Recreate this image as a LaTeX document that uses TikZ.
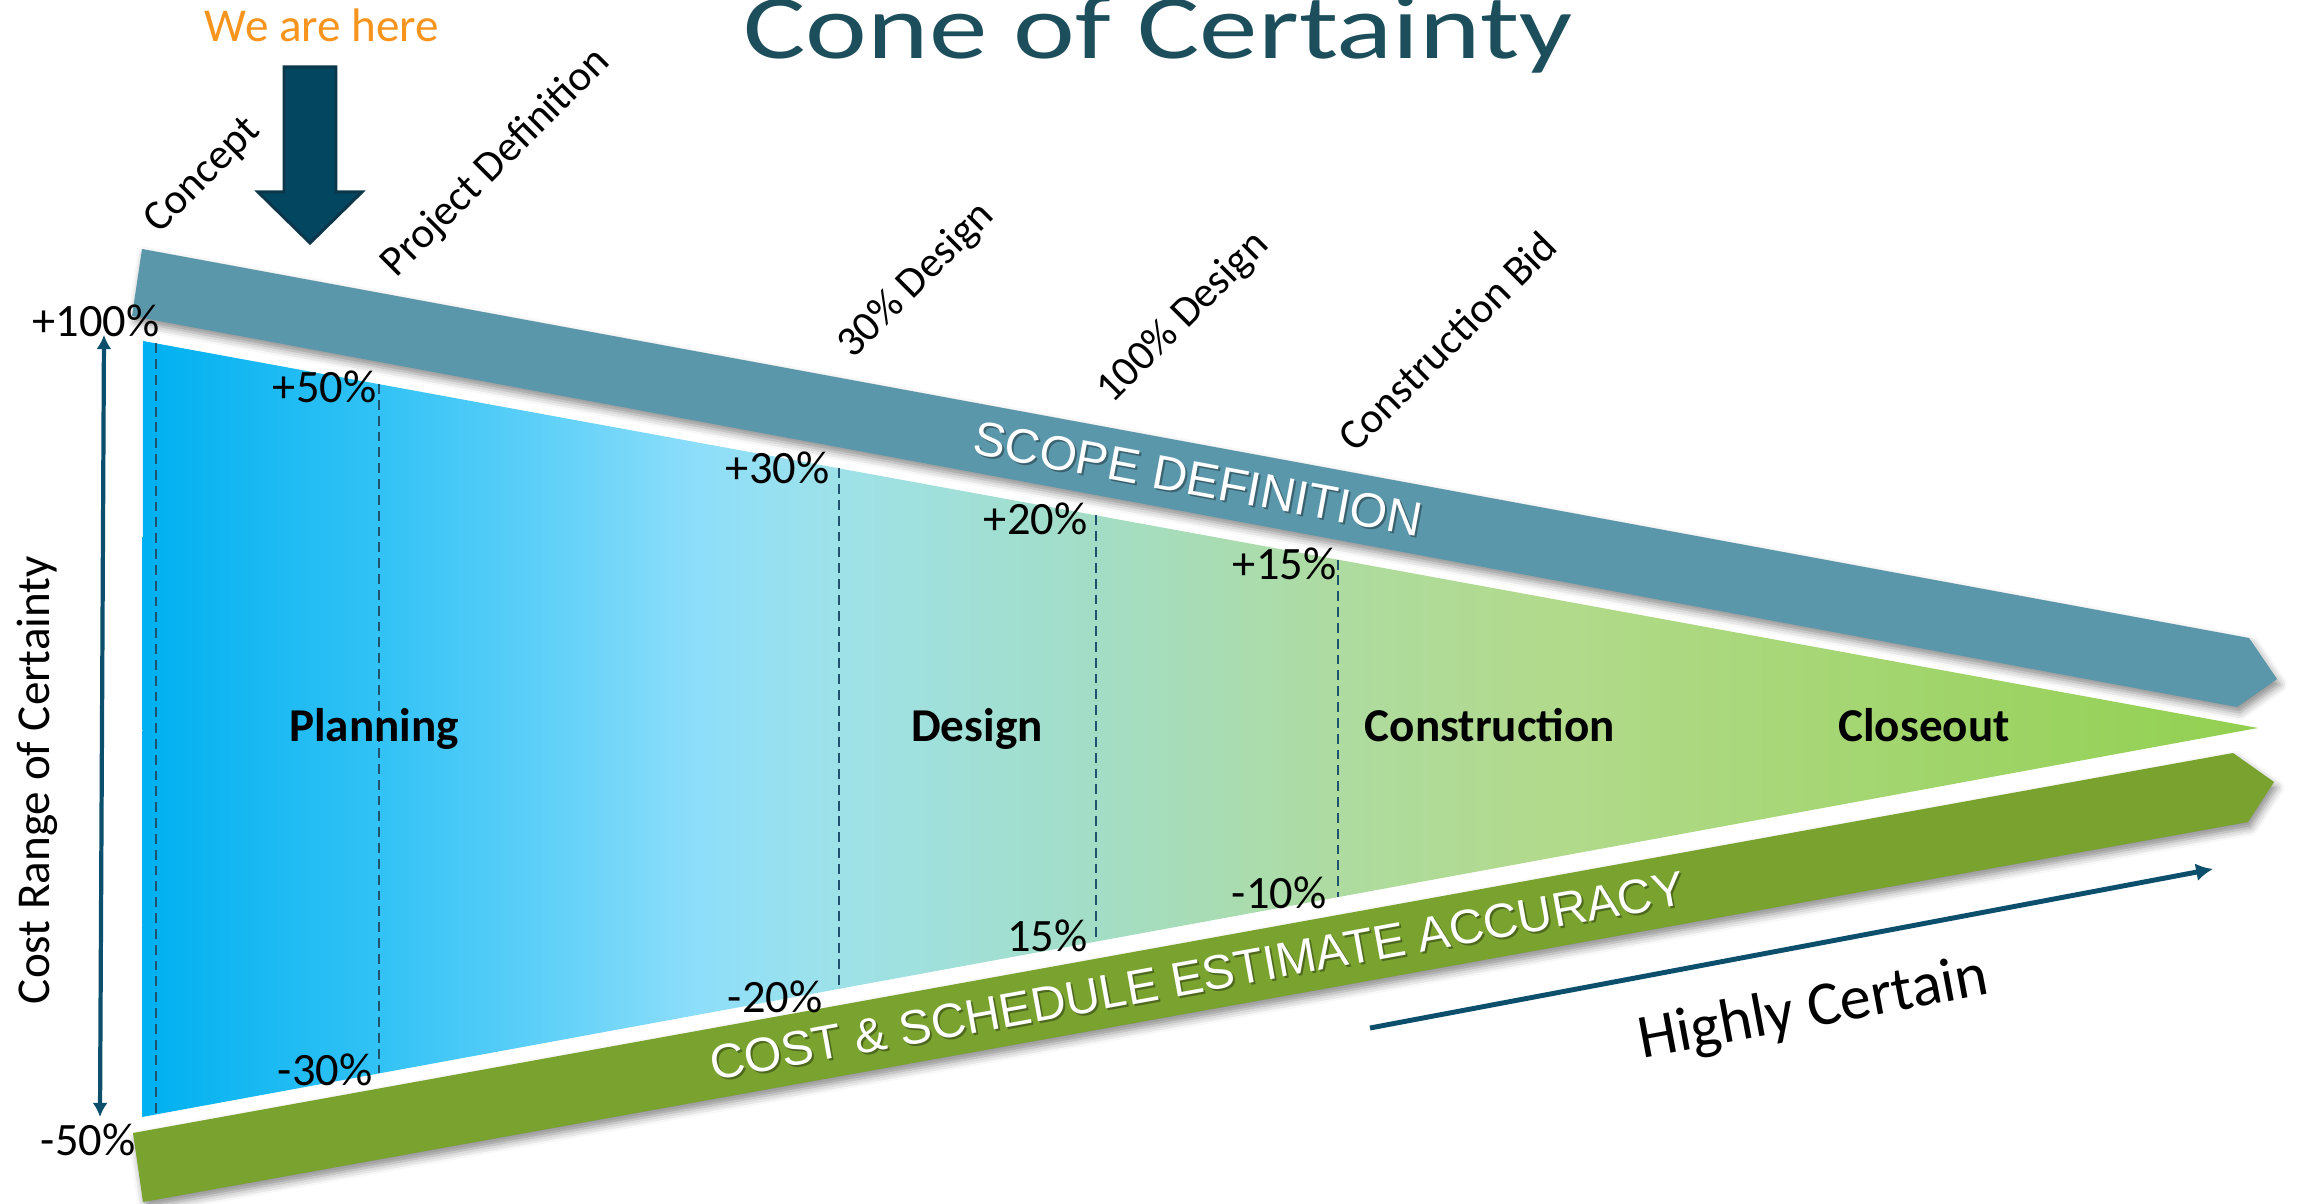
\documentclass[tikz,border=0pt]{standalone}
\usepackage{fontspec}
\setmainfont{Carlito}
\newfontfamily\bandfont{Liberation Sans}
\usetikzlibrary{arrows.meta,shadows.blur}
\definecolor{titleteal}{RGB}{29,78,91}
\definecolor{scopeblue}{RGB}{91,151,171}
\definecolor{costgreen}{RGB}{121,162,47}
\definecolor{hereorange}{RGB}{247,148,30}
\definecolor{herefill}{RGB}{3,70,95}
\definecolor{hereline}{RGB}{12,55,75}
\definecolor{axisblue}{RGB}{11,79,108}
\definecolor{dashblue}{RGB}{31,82,110}
\pgfdeclarehorizontalshading{coneshade}{100bp}{rgb(0bp)=(0,.690,.941); rgb(25bp)=(0,.690,.941);
  rgb(30.6bp)=(.196,.761,.961); rgb(34.5bp)=(.373,.816,.973); rgb(38.2bp)=(.557,.871,.980);
  rgb(41.5bp)=(.620,.886,.910); rgb(47.6bp)=(.639,.867,.773); rgb(53.3bp)=(.682,.859,.627);
  rgb(58.3bp)=(.698,.855,.549); rgb(75bp)=(.573,.816,.314); rgb(100bp)=(.573,.816,.314)}
\begin{document}
\begin{tikzpicture}[x=0.01cm,y=-0.01cm,
    band/.style={blur shadow={shadow xshift=0.8pt,shadow yshift=-1.6pt,shadow blur radius=2.2pt,shadow opacity=45}},
    bandtext/.style={font=\bandfont\fontsize{13.7}{16}\selectfont,inner sep=0pt},
    milestone/.style={font=\fontsize{12.2}{14}\selectfont,rotate=45,anchor=base west,inner sep=0pt},
    pct/.style={font=\fontsize{13.2}{15}\selectfont,anchor=base east,inner sep=0pt},
    phase/.style={font=\bfseries\fontsize{13.4}{15}\selectfont,anchor=base,inner sep=0pt},
    stagedash/.style={dashblue,line width=0.6pt,dash pattern=on 2.8pt off 1.7pt}]
    \useasboundingbox (0,0) rectangle (2297,1204);
    %% title
    \node[font=\fontsize{26}{29}\selectfont,text=titleteal,anchor=base,inner sep=0pt,xscale=1.28] (title) at (1158,59) {Cone of Certainty};
    %% bands
    \path[fill=scopeblue,band] (142,249) -- (2249,638) -- (2277,679) -- (2237,707) -- (132,316) -- cycle;
    \path[fill=costgreen,band] (133,1133) -- (2233,753) -- (2274,782) -- (2248,822) -- (143,1202) -- cycle;
    %% cone
    \shade[shading=coneshade] (143,341) -- (2258,728) -- (142,1117) -- cycle;
    \foreach \xd in {156,379,839,1096,1338} {
        \pgfmathsetmacro\yt{341+(\xd-143)*0.18298}
        \pgfmathsetmacro\yb{1117-(\xd-142)*0.18384}
        \draw[stagedash] (\xd,\yt) -- (\xd,\yb);
    }
    %% band labels
    \node[bandtext,text=black,opacity=.35,rotate=-10.48] at (1200,481) {SCOPE DEFINITION};
    \node[bandtext,text=white,rotate=-10.48] (scope) at (1198,479) {SCOPE DEFINITION};
    \node[bandtext,text=black,opacity=.35,rotate=10.27] at (1199,978) {COST \& SCHEDULE ESTIMATE ACCURACY};
    \node[bandtext,text=white,rotate=10.27] (cost) at (1197,976) {COST \& SCHEDULE ESTIMATE ACCURACY};
    %% milestones
    \foreach \mx/\my/\txt [count=\i] in {159/235/Concept,396/279/Project Definition,853/360/30\% Design,1112/405/100\% Design,1355/454/Construction Bid}
        \node[milestone] (ms\i) at (\mx,\my) {\txt};
    %% range values
    \foreach \px/\py/\txt [count=\i] in {160/337/+100\%,377/403/+50\%,830/484/+30\%,1088/535/+20\%,1337/580/+15\%,
        136/1155/-50\%,373/1085/-30\%,823/1012/-20\%,1088/952/15\%,1327/909/-10\%}
        \node[pct] (pc\i) at (\px,\py) {\txt};
    %% phases
    \foreach \fx/\txt [count=\i] in {374/Planning,977/Design,1490/Construction,1924/Closeout}
        \node[phase] (ph\i) at (\fx,742) {\txt};
    %% cost range axis
    \coordinate (axtop) at (104,335);
    \coordinate (axbot) at (100,1117);
    \draw[axisblue,line width=1.2pt,{Latex[length=4pt,width=4.3pt]}-{Latex[length=4pt,width=4.3pt]}] (axtop) -- (axbot);
    \node[font=\fontsize{13.4}{15}\selectfont,rotate=90,inner sep=0pt] (axlabel) at (37,780) {Cost Range of Certainty};
    %% highly certain
    \coordinate (hcstart) at (1370,1028);
    \coordinate (hcend) at (2213,869);
    \draw[axisblue,line width=1.4pt,-{Latex[length=4.8pt,width=5.1pt]}] (hcstart) -- (hcend);
    \node[font=\fontsize{17.7}{20}\selectfont,rotate=10.6,anchor=base west,inner sep=0pt] (certain) at (1642,1059) {Highly Certain};
    %% we are here
    \node[font=\fontsize{13.4}{15}\selectfont,text=hereorange,anchor=base,inner sep=0pt] (here) at (322,42) {We are here};
    \draw[hereline,fill=herefill,line width=0.85pt] (284,67) -- (336,67) -- (336,192) -- (362,192) -- (310,243) -- (258,192) -- (284,192) -- cycle;
\end{tikzpicture}
\end{document}
